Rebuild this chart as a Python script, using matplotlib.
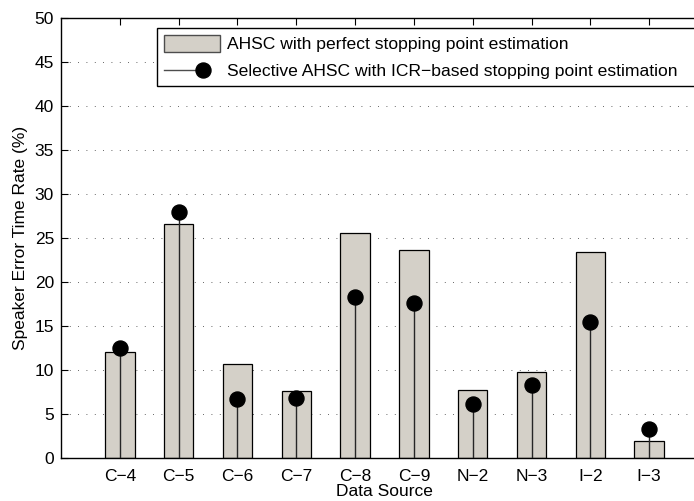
import matplotlib.pyplot as plt
import numpy as np
from matplotlib.lines import Line2D
from matplotlib.patches import Patch
from matplotlib.legend_handler import HandlerBase

# data
sources = ['C\u22124', 'C\u22125', 'C\u22126', 'C\u22127', 'C\u22128',
           'C\u22129', 'N\u22122', 'N\u22123', 'I\u22122', 'I\u22123']
perfect = [12.0, 26.6, 10.7, 7.6, 25.6, 23.6, 7.7, 9.8, 23.4, 1.9]
selective = [12.45, 27.9, 6.7, 6.85, 18.3, 17.65, 6.15, 8.35, 15.4, 3.35]

plt.rcParams['font.family'] = ['Liberation Sans', 'DejaVu Sans']


class StemHandler(HandlerBase):
    # MATLAB-style stem legend: line with the dot near its right end
    def create_artists(self, legend, orig_handle, xdescent, ydescent,
                       width, height, fontsize, trans):
        y = height / 2 - ydescent
        xd = width * 0.7 - xdescent
        line = Line2D([-xdescent, xd], [y, y], color='0.3', lw=1,
                      transform=trans)
        dot = Line2D([xd], [y], marker='o', ms=10.8, color='k', lw=0,
                     transform=trans)
        return [line, dot]


fig = plt.figure(figsize=(6.94, 5.01), dpi=100)
ax = fig.add_axes([61 / 694, 43 / 501, 647 / 694, 440 / 501])

x = np.arange(1, len(sources) + 1)
ax.bar(x, perfect, width=0.5, color='#d4d0c8', edgecolor='black',
       linewidth=0.9, zorder=2)
ax.vlines(x, 0, selective, color='0.15', lw=1, zorder=3)
ax.plot(x, selective, 'o', color='black', ms=10.8, zorder=4)

ax.set_xlim(0, 11)
ax.set_ylim(0, 50)
ax.set_yticks(np.arange(0, 51, 5))
ax.set_xticks(x)
ax.set_xticklabels(sources)
ax.yaxis.grid(True, linestyle=(0, (1, 9)), color='0.2', lw=0.6)
ax.set_axisbelow(True)
ax.tick_params(direction='in', top=True, right=True, length=5,
               labelsize=12.5, width=0.8, pad=5)
ax.tick_params(axis='x', pad=8)
for s in ax.spines.values():
    s.set_linewidth(1)
ax.set_xlabel('Data Source', fontsize=12.5, labelpad=0)
ax.set_ylabel('Speaker Error Time Rate (%)', fontsize=12.5, labelpad=5)

h1 = Patch(facecolor='#d4d0c8', edgecolor='0.3', lw=1)
h2 = object()
leg = fig.legend([h1, h2],
                 ['AHSC with perfect stopping point estimation',
                  'Selective AHSC with ICR\u2212based stopping point estimation'],
                 handler_map={object: StemHandler()},
                 loc='upper left', mode='expand',
                 bbox_to_anchor=(157 / 694, 1 - 84 / 501, 560 / 694, 56 / 501),
                 fontsize=12.6, handlelength=3.2, handleheight=1.1,
                 handletextpad=0.4, borderpad=0.4, labelspacing=0.55,
                 fancybox=False, framealpha=1, edgecolor='black', borderaxespad=0)
leg.get_frame().set_linewidth(1)

fig.savefig('out.png', dpi=100)
